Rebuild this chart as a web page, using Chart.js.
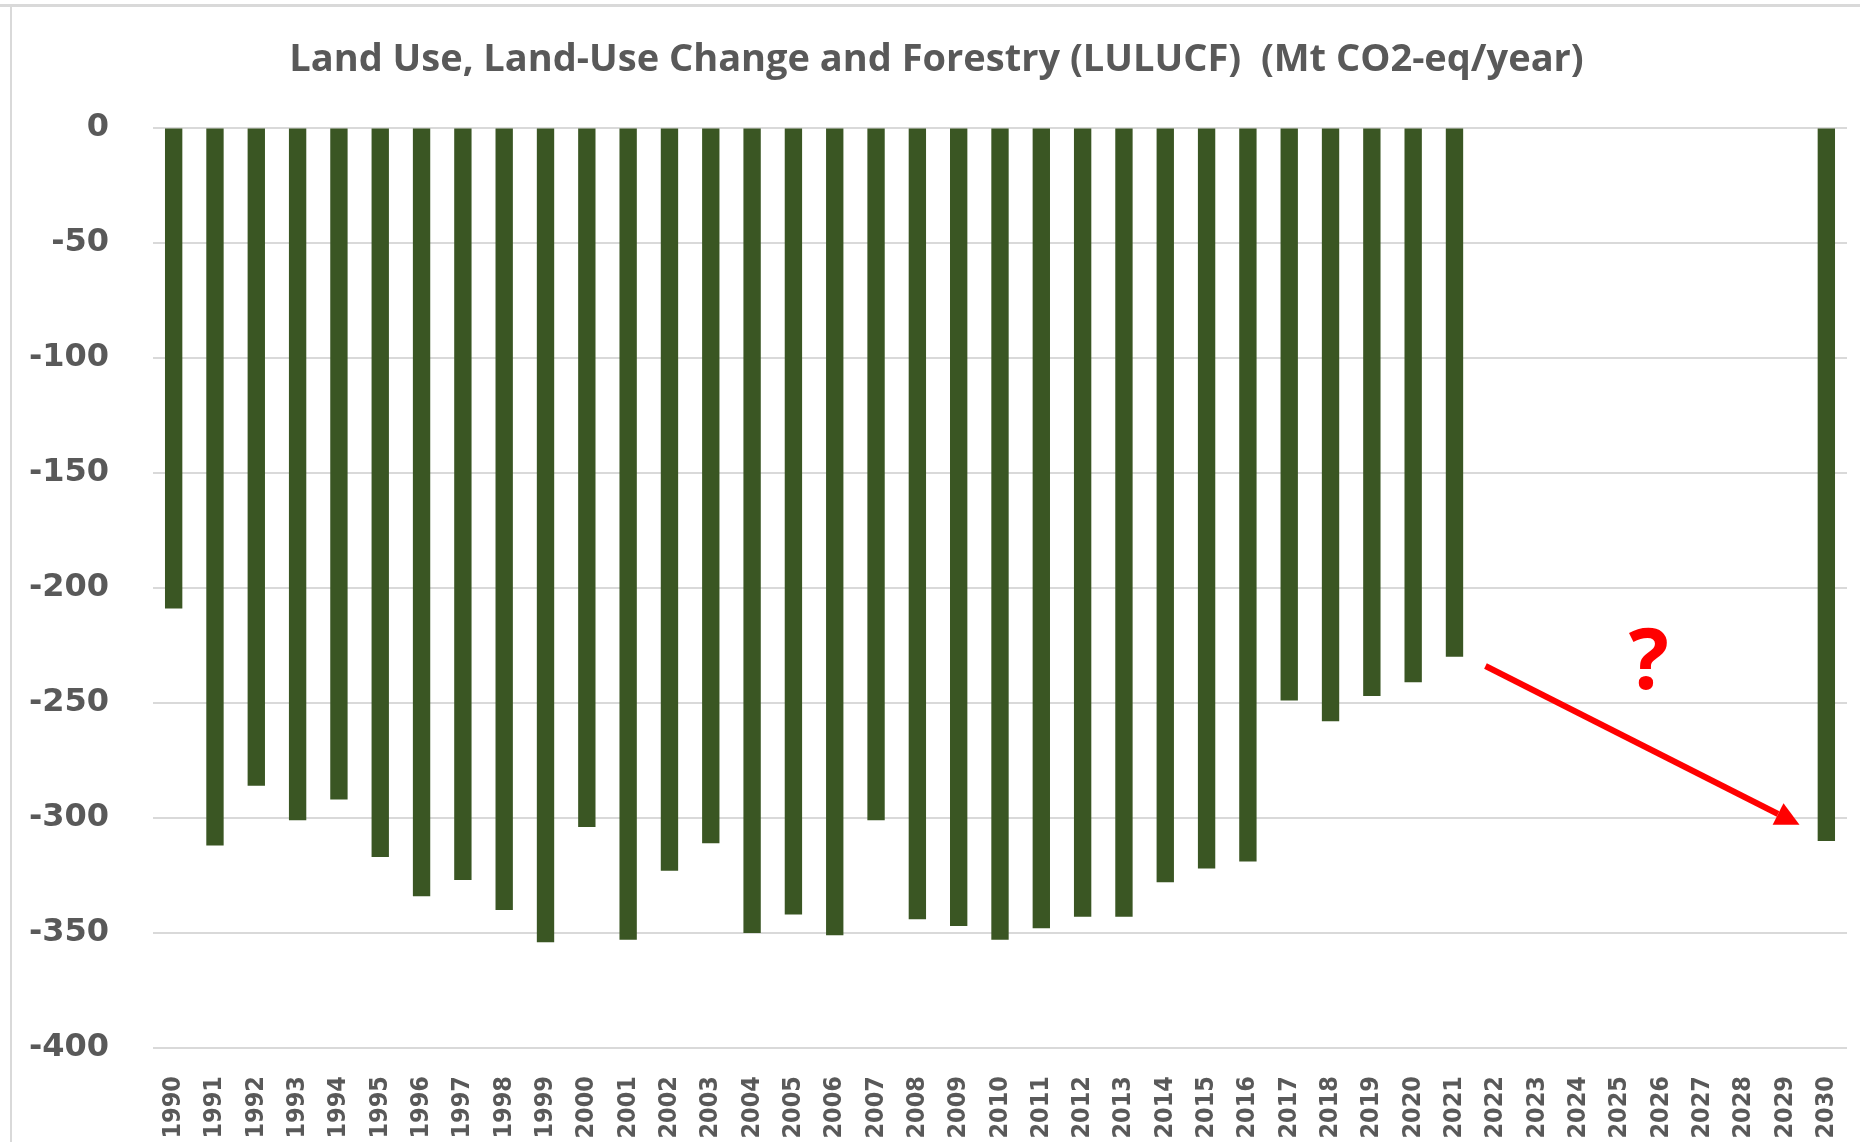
<!DOCTYPE html>
<html>
<head>
    <meta charset="UTF-8">
    <title>LULUCF</title>
    <style>
        body {
            margin: 0;
            background: #ffffff;
        }

        #wrap {
            position: relative;
            width: 1860px;
            height: 1142px;
        }
    </style>
    <script src="https://cdn.jsdelivr.net/npm/chart.js@4.4.0/dist/chart.umd.min.js"></script>
</head>
<body>
<div id="wrap"><canvas id="bar-chart"></canvas></div>
<script>
    // years on the x axis
    var years = [];
    for (var y = 1990; y <= 2030; y++) {
        years.push(String(y));
    }

    // net LULUCF emissions, Mt CO2-eq/year (2022-2029 empty)
    var lulucf = [
        -209, -312, -286, -301, -292, -317, -334, -327, -340, -354,
        -304, -353, -323, -311, -350, -342, -351, -301, -344, -347,
        -353, -348, -343, -343, -328, -322, -319, -249, -258, -247,
        -241, -230,
        null, null, null, null, null, null, null, null,
        -310
    ];

    // y axis range and step
    var yMin = -400;
    var yMax = 0;
    var yStep = 50;

    var titleText = 'Land Use, Land-Use Change and Forestry (LULUCF)  (Mt CO2-eq/year)';

    // the red arrow and "?" note (x = category index, y = value)
    var arrowFrom = [31.75, -234];
    var arrowTo = [39.35, -303];
    var questionAt = [35.7, -233.5];

    var grey = '#595959';

    // white background and the frame lines of the original picture
    var framePlugin = {
        id: 'frame',
        beforeDraw: function(chart) {
            var ctx = chart.ctx;
            ctx.save();
            ctx.fillStyle = '#ffffff';
            ctx.fillRect(0, 0, chart.width, chart.height);
            ctx.fillStyle = '#d9d9d9';
            ctx.fillRect(0, 4, chart.width, 3);
            ctx.fillRect(10, 4, 2, chart.height);
            ctx.restore();
        }
    };

    // arrow from the last real year to 2030, with a question mark
    var arrowPlugin = {
        id: 'arrow',
        afterDatasetsDraw: function(chart) {
            var ctx = chart.ctx;
            var xs = chart.scales.x;
            var ys = chart.scales.y;
            var x1 = xs.getPixelForValue(arrowFrom[0]);
            var y1 = ys.getPixelForValue(arrowFrom[1]);
            var x2 = xs.getPixelForValue(arrowTo[0]);
            var y2 = ys.getPixelForValue(arrowTo[1]);
            var ang = Math.atan2(y2 - y1, x2 - x1);
            var headLen = 24;
            var headW = 24;
            var bx = x2 - headLen * Math.cos(ang);
            var by = y2 - headLen * Math.sin(ang);

            ctx.save();
            ctx.strokeStyle = '#ff0000';
            ctx.fillStyle = '#ff0000';
            ctx.lineWidth = 6;
            ctx.beginPath();
            ctx.moveTo(x1, y1);
            ctx.lineTo(bx, by);
            ctx.stroke();

            ctx.beginPath();
            ctx.moveTo(x2, y2);
            ctx.lineTo(bx + headW / 2 * Math.sin(ang), by - headW / 2 * Math.cos(ang));
            ctx.lineTo(bx - headW / 2 * Math.sin(ang), by + headW / 2 * Math.cos(ang));
            ctx.closePath();
            ctx.fill();

            ctx.font = 'bold 84px "Open Sans"';
            ctx.textAlign = 'center';
            ctx.textBaseline = 'middle';
            ctx.fillText('?', xs.getPixelForValue(questionAt[0]), ys.getPixelForValue(questionAt[1]));
            ctx.restore();
        }
    };

    var ctx = document.getElementById('bar-chart').getContext('2d');
    var chart = new Chart(ctx, {
        type: 'bar',
        data: {
            labels: years,
            datasets: [{
                label: 'LULUCF',
                data: lulucf,
                backgroundColor: '#3a5623',
                borderWidth: 0,
                barPercentage: 0.42,
                categoryPercentage: 1.0
            }]
        },
        options: {
            responsive: true,
            maintainAspectRatio: false,
            animation: false,
            layout: {
                padding: { left: 26, right: 13, top: 0, bottom: 0 }
            },
            plugins: {
                legend: { display: false },
                tooltip: { enabled: false },
                title: {
                    display: true,
                    text: titleText,
                    color: grey,
                    font: { family: '"Open Sans"', size: 38, weight: 'bold', lineHeight: 1.2 },
                    padding: { top: 37, bottom: 45 }
                }
            },
            scales: {
                x: {
                    grid: { display: false },
                    border: { display: false },
                    ticks: {
                        autoSkip: false,
                        minRotation: 90,
                        maxRotation: 90,
                        padding: 20,
                        color: grey,
                        font: { family: '"DejaVu Sans Condensed", "DejaVu Sans"', size: 25, weight: 'bold' }
                    },
                    afterFit: function(scale) {
                        scale.height = 94;
                        scale.paddingLeft = 0;
                        scale.paddingRight = 0;
                    }
                },
                y: {
                    min: yMin,
                    max: yMax,
                    grid: {
                        color: '#d9d9d9',
                        lineWidth: 2,
                        drawTicks: false
                    },
                    border: { display: false },
                    ticks: {
                        stepSize: yStep,
                        padding: 44,
                        color: grey,
                        font: { family: '"DejaVu Sans"', size: 32, weight: 'bold' }
                    },
                    afterFit: function(scale) {
                        scale.width = 127;
                    }
                }
            }
        },
        plugins: [framePlugin, arrowPlugin]
    });
</script>
</body>
</html>
